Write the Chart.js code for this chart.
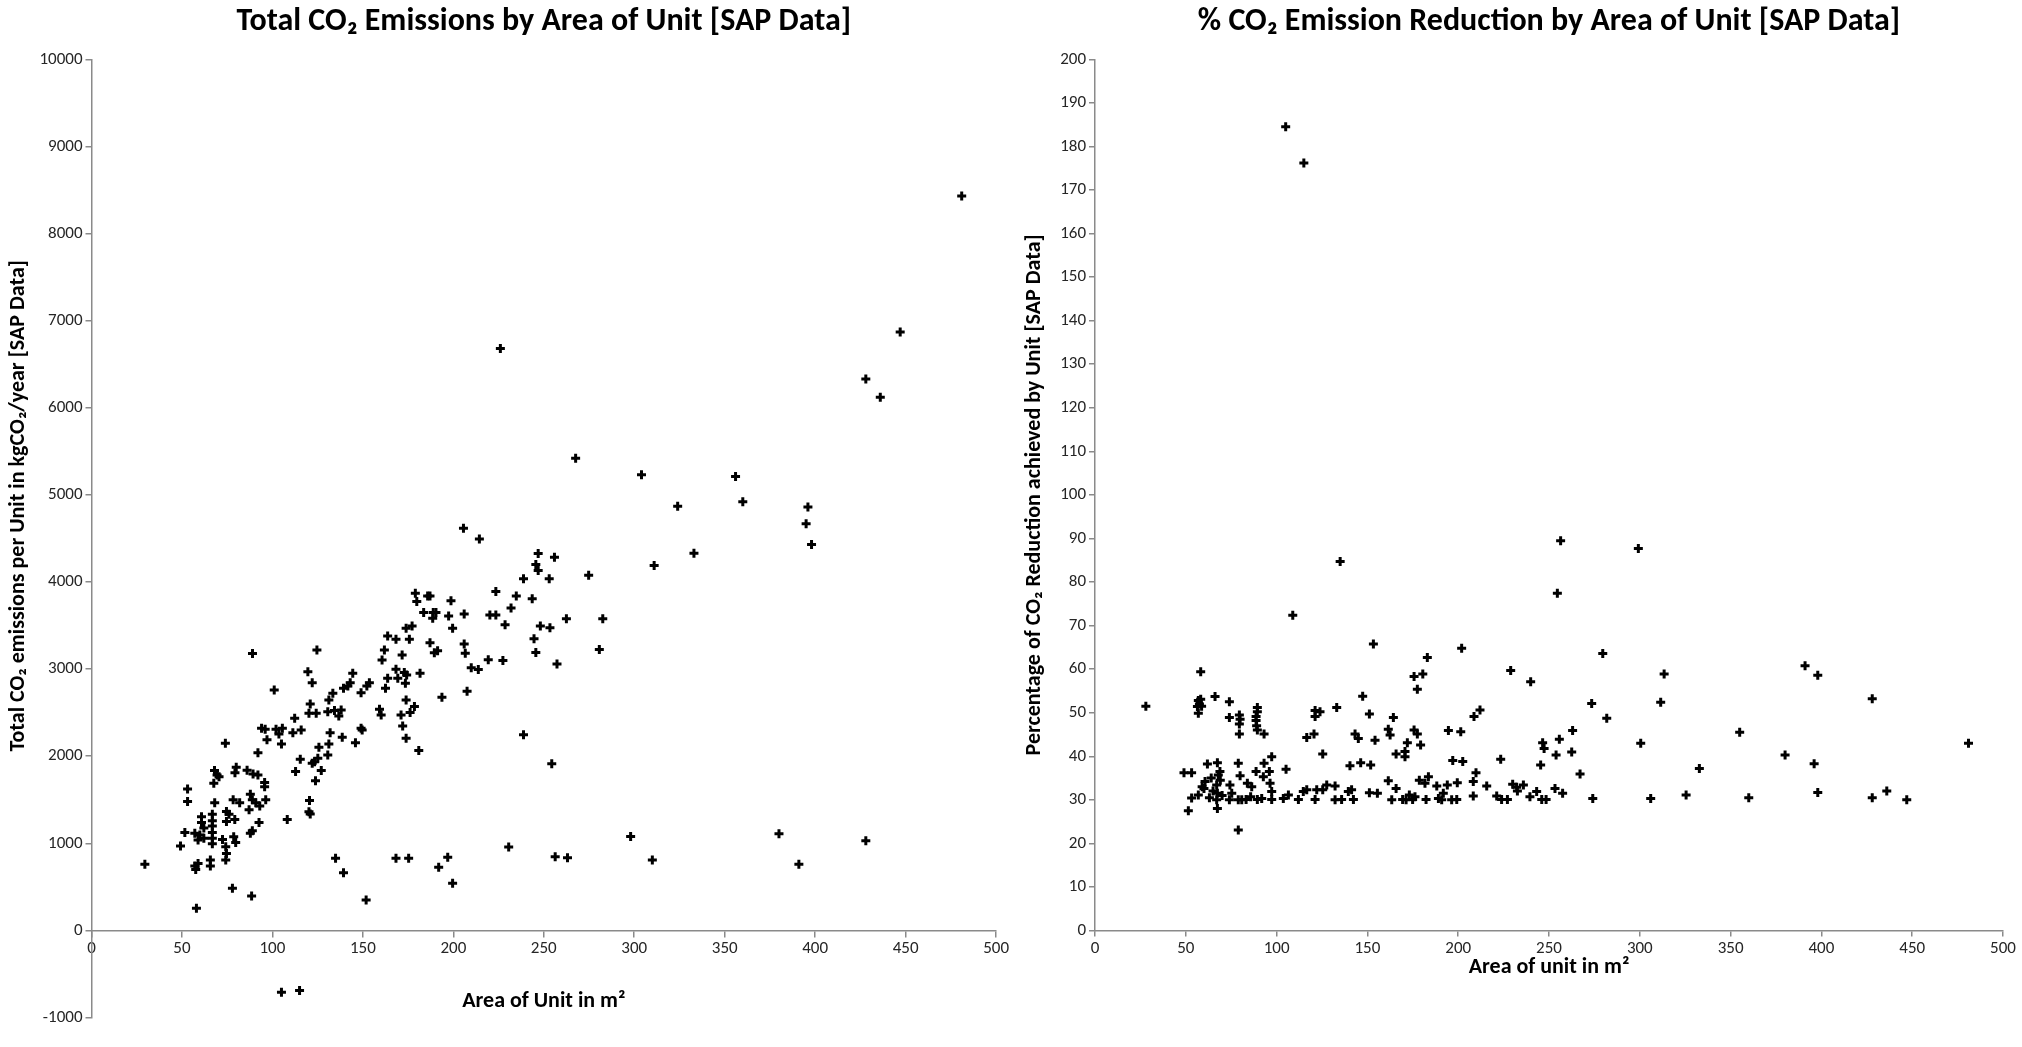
<!DOCTYPE html>
<html>
<head>
<meta charset="utf-8">
<title>CO₂ Emissions by Area of Unit</title>
<script src="https://cdn.jsdelivr.net/npm/chart.js@4.4.1/dist/chart.umd.min.js"></script>
<style>
  html, body { margin: 0; padding: 0; background: #fff; }
  #wrap { position: relative; width: 2022px; height: 1047px; overflow: hidden; }
  .panel { position: absolute; top: 0; width: 1011px; height: 1047px; }
  #panelLeft { left: 0; }
  #panelRight { left: 1011px; }
</style>
</head>
<body>
<div id="wrap">
  <div class="panel" id="panelLeft"><canvas id="emissionsChart"></canvas></div>
  <div class="panel" id="panelRight"><canvas id="reductionChart"></canvas></div>
</div>
<script>
// Unit floor area (m²) and total CO₂ emissions per unit (kgCO₂/year), SAP data
const emissionArea = [
  89, 101, 94, 96, 97, 102, 105.5, 103.6, 105, 74, 92, 68, 69.4, 70.5, 67.6, 80, 79.3, 86, 89.3, 92,
  95.7, 95.7, 96.3, 53.1, 53.1, 68.1, 78.3, 81.9, 87.8, 88.9, 90.8, 87.1, 93, 60.8, 66.8, 66.8, 66.8, 66.8, 66.8, 66.8,
  60.8, 62.1, 74.6, 76, 74.6, 79.2, 57.1, 59.9, 58.9, 62.1, 51.6, 49.2, 72.4, 78.6, 79.7, 74.2, 74.6, 74.2, 88.9, 87.8,
  92.6, 108.2, 29.5, 57.1, 58.9, 57.6, 65.7, 65.7, 77.9, 88.5, 58,
  179, 179.8, 185.8, 187.1, 198.7, 183.6, 188.9, 190.4, 188.6, 197.4, 199.6, 173.9, 177.2, 175.7, 163.7, 168.3, 187.1, 189.5, 191.3, 161.9,
  160.6, 171.7, 124.6, 119.6, 122, 144.4, 143, 141.7, 139.3, 153.6, 152.2, 149, 133.4, 131.2, 168.3, 169.3, 172.9, 174.2, 173.5, 163.7,
  162.5, 181.6, 173.9, 178.5, 176.1, 171.1, 172, 173.9, 180.9, 193.7, 159.2, 160.1, 120.9, 120.2, 124.2, 130.6, 134.3, 138, 136.7, 112.3,
  111.3, 115.9, 131.9, 138.6, 145.9, 149, 149.6, 131.2, 125.7, 130.6, 115.4, 125.1, 123.3, 122, 112.8, 127, 123.8, 120.5, 120.2, 120.9,
  134.9, 139.3, 151.8, 168.3, 175.3, 191.9, 196.9, 199.6,
  267.6, 205.6, 214.4, 246.9, 245.6, 246.9, 255.9, 238.8, 253, 274.8, 223.5, 234.8, 243.6, 231.9, 206, 220.2, 223.5, 228.6, 248.1, 253.4,
  262.5, 282.6, 244.6, 206, 206.6, 209.9, 213.8, 219.3, 227.4, 245.6, 257.3, 280.7, 207.6, 238.8, 254.4, 230.6, 256.3, 263.1,
  226, 304, 324, 311, 333, 356, 360, 395, 396, 398, 428, 436, 447, 481, 298, 310, 380, 391, 428, 105, 115
];
const emissionTotal = [
  3180, 2760, 2320, 2310, 2190, 2310, 2320, 2255, 2140, 2150, 2040, 1835, 1785, 1765, 1690, 1875, 1810, 1840, 1795, 1785,
  1700, 1650, 1500, 1625, 1480, 1465, 1500, 1465, 1565, 1500, 1465, 1385, 1430, 1305, 1335, 1260, 1200, 1125, 1060, 995,
  1240, 1175, 1365, 1335, 1250, 1275, 1115, 1095, 1040, 1060, 1125, 970, 1045, 1075, 1010, 960, 885, 810, 1145, 1115,
  1240, 1275, 760, 740, 770, 700, 810, 740, 485, 395, 255,
  3870, 3775, 3840, 3840, 3786, 3649, 3649, 3649, 3584, 3610, 3469, 3469, 3495, 3342, 3381, 3342, 3304, 3189, 3212, 3220,
  3105, 3163, 3220, 2971, 2845, 2952, 2845, 2807, 2780, 2845, 2807, 2730, 2723, 2646, 2998, 2895, 2960, 2933, 2837, 2895,
  2780, 2952, 2646, 2570, 2501, 2474, 2348, 2206, 2065, 2677, 2539, 2474, 2600, 2493, 2493, 2512, 2524, 2531, 2462, 2436,
  2271, 2302, 2271, 2218, 2156, 2321, 2302, 2141, 2103, 2015, 1965, 1977, 1938, 1919, 1824, 1835, 1720, 1491, 1364, 1338,
  829, 664, 351, 829, 829, 725, 840, 542,
  5420, 4618, 4493, 4327, 4202, 4131, 4285, 4036, 4036, 4078, 3890, 3840, 3807, 3703, 3633, 3620, 3620, 3508, 3495, 3475,
  3579, 3579, 3350, 3287, 3183, 3017, 2996, 3109, 3100, 3192, 3059, 3225, 2747, 2248, 1915, 959, 847, 834,
  6680, 5230, 4870, 4190, 4330, 5210, 4920, 4670, 4860, 4430, 6330, 6120, 6870, 8430, 1080, 810, 1110, 760, 1030, -710, -690
];

// Unit floor area (m²) and % CO₂ reduction achieved per unit, SAP data
const reductionArea = [
  108.9, 58.2, 56.9, 58.2, 57.5, 56.4, 58.7, 56.9, 66.1, 74, 74, 79.5, 79.9, 79.5, 79.5, 89.4, 89.4, 88.7, 88.7, 89,
  89.4, 93.1, 121.2, 121.2, 120.6, 116.6, 125.4, 97.3, 93.1, 49, 53.2, 61.9, 67.4, 68.8, 67.9, 78.9, 79.9, 88.7, 92.7, 96,
  105.2, 60.6, 60, 67, 67.4, 67, 67.4, 53.2, 51.4, 56.9, 74.3, 75.3, 74, 78.9, 80.8, 83.9, 86.3, 85.7, 89.4, 91.8,
  96.4, 97.3, 97.3, 103.7, 106.5, 112, 114.7, 116.6, 121.2, 122.1, 125.4, 127.6, 78.9, 83.2, 64, 65, 69, 70, 63, 59,
  153.3, 201.9, 183, 175.7, 180.5, 177.5, 147.4, 133.1, 151.1, 164.3, 123.9, 161.5, 162.5, 143.2, 145, 154.2, 175.7, 177.5, 172, 179.3,
  194.6, 201.4, 165.8, 170.7, 170.7, 140.4, 146.3, 151.8, 197, 202.5, 161.5, 165.8, 163.4, 178.6, 183.6, 181.7, 188.2, 194, 199.5, 132.2,
  132.2, 135.8, 139.5, 141.3, 142.3, 151.1, 155.5, 169.4, 173.1, 174.9, 176.2, 182.3, 189.1, 191.8, 196.4, 199.2, 171.3, 190.9,
  256.4, 299.2, 254.6, 279.6, 228.9, 239.9, 313.4, 311.5, 273.5, 281.8, 212, 208.7, 263, 255.7, 246.5, 247.3, 262.5, 253.9, 300.5, 223.4,
  245.4, 267.1, 209.8, 208.3, 215.7, 230, 232.2, 235.9, 232.6, 253.3, 257.5, 243.2, 239.5, 246, 248.4, 221.2, 223.9, 227.1, 208.3, 274.1,
  306, 325.5, 332.8,
  28, 105, 115, 135, 355, 360, 380, 391, 398, 396, 398, 428, 428, 436, 447, 481
];
const reductionPercent = [
  72.4, 59.4, 52.8, 53.1, 52, 51.4, 51.5, 49.9, 53.7, 52.5, 48.9, 49.5, 48.5, 47.4, 45.1, 51.2, 50.2, 49.1, 48.2, 47,
  46, 45.1, 50.5, 49.1, 45.1, 44.3, 40.5, 39.9, 38.4, 36.2, 36.2, 38.2, 38.5, 36.5, 35.7, 38.4, 35.5, 36.5, 35.3, 36.5,
  37, 34.2, 32.6, 33.4, 31.5, 30, 28, 30.4, 27.5, 31.1, 33.4, 31.5, 30, 30, 30, 33.8, 33, 30.7, 30.1, 30.3,
  33.8, 31.9, 30.1, 30.3, 31.1, 30.1, 31.9, 32.3, 30.1, 32.3, 32.3, 33.4, 23.1, 30.1, 35, 32, 34.5, 31, 30.5, 33,
  65.8, 64.8, 62.7, 58.3, 58.9, 55.4, 53.8, 51.2, 49.7, 48.9, 50.2, 46.2, 44.9, 45.1, 44.1, 43.7, 46, 45.1, 43.1, 42.6,
  45.9, 45.6, 40.5, 41.1, 39.9, 37.8, 38.5, 38, 39, 38.8, 34.4, 32.6, 30, 34.5, 35.3, 33.8, 33.2, 33.4, 33.9, 33.2,
  30, 30.1, 31.9, 32.3, 30.1, 31.6, 31.5, 30.1, 31.1, 30.1, 30.7, 30.1, 30.3, 31.5, 30, 30.1, 30, 30,
  89.5, 87.7, 77.4, 63.6, 59.7, 57.1, 58.9, 52.4, 52.1, 48.7, 50.6, 49.1, 45.9, 43.9, 43.1, 41.8, 41, 40.3, 43, 39.3,
  38, 35.9, 36.2, 34.2, 33.2, 33.6, 32.9, 33.4, 32, 32.6, 31.5, 31.9, 30.7, 30.1, 30.1, 30.9, 30.1, 30.1, 30.9, 30.3,
  30.3, 31.1, 37.2,
  51.5, 184.5, 176.2, 84.7, 45.5, 30.5, 40.3, 60.8, 58.6, 38.3, 31.7, 53.2, 30.5, 32, 30, 43
];

// Axis ranges and tick spacing
const areaAxis = { min: 0, max: 500, step: 50 };
const emissionAxis = { min: -1000, max: 10000, step: 1000 };
const reductionAxis = { min: 0, max: 200, step: 10 };

const FONT = 'Carlito, "Liberation Sans Narrow", "Liberation Sans", sans-serif';
const AXIS_GREY = '#8a8a8a';
const LABEL_COLOR = '#262626';

function toPoints(xs, ys) {
  return xs.map((x, i) => ({ x: x, y: ys[i] }));
}

function crossDataset(points) {
  return {
    data: points,
    pointStyle: 'cross',
    pointRadius: 4.5,
    pointHoverRadius: 4.5,
    pointBorderWidth: 3,
    borderColor: '#000',
    backgroundColor: '#000',
    showLine: false
  };
}

function tickFont() { return { family: FONT, size: 17 }; }
function axisTitleFont() { return { family: FONT, size: 22, weight: 'bold', lineHeight: 1.2 }; }

// Vertical axis title centred over a chosen value span of the y scale
const spanTitle = {
  id: 'spanTitle',
  afterDraw(chart, args, opts) {
    if (!opts || !opts.text) return;
    const yScale = chart.scales.y;
    const a = yScale.getPixelForValue(opts.from);
    const b = yScale.getPixelForValue(opts.to);
    const f = Chart.helpers.toFont(axisTitleFont());
    const ctx = chart.ctx;
    ctx.save();
    ctx.translate(yScale.left + opts.offset + f.lineHeight / 2, (a + b) / 2);
    ctx.rotate(-Math.PI / 2);
    ctx.font = f.string;
    ctx.fillStyle = '#000';
    ctx.textAlign = 'center';
    ctx.textBaseline = 'middle';
    ctx.fillText(opts.text, 0, 0);
    ctx.restore();
  }
};

function valueAxis(range, titleText, width, titlePadTop) {
  return {
    type: 'linear',
    position: 'left',
    min: range.min,
    max: range.max,
    ticks: { stepSize: range.step, color: LABEL_COLOR, font: tickFont(), padding: 3, format: { useGrouping: false } },
    grid: { drawOnChartArea: false, drawTicks: true, tickLength: 6, color: AXIS_GREY, lineWidth: 1.5 },
    border: { display: true, color: AXIS_GREY, width: 1.5 },
    title: { display: !!titleText, text: titleText || '', color: '#000', font: axisTitleFont(), padding: { top: titlePadTop, bottom: 0 } },
    afterFit: function (scale) { scale.width = width; }
  };
}

function areaAxisOptions(position, titleText, height, titlePadBottom) {
  return {
    type: 'linear',
    position: position,
    min: areaAxis.min,
    max: areaAxis.max,
    ticks: { stepSize: areaAxis.step, color: LABEL_COLOR, font: tickFont(), padding: 2, maxRotation: 0, format: { useGrouping: false } },
    grid: { drawOnChartArea: false, drawTicks: true, tickLength: 6, color: AXIS_GREY, lineWidth: 1.5 },
    border: { display: true, color: AXIS_GREY, width: 1.5 },
    title: { display: true, text: titleText, color: '#000', font: axisTitleFont(), padding: { top: 0, bottom: titlePadBottom } },
    afterFit: function (scale) { scale.height = height; }
  };
}

function chartTitle(text) {
  return {
    display: true,
    fullSize: false,
    text: text,
    color: '#000',
    font: { family: FONT, size: 32, weight: 'bold', lineHeight: 1.2 },
    padding: { top: 2.8, bottom: 18.1 }
  };
}

const common = {
  responsive: true,
  maintainAspectRatio: false,
  animation: false,
  devicePixelRatio: 1,
  events: []
};

new Chart(document.getElementById('emissionsChart'), {
  type: 'scatter',
  data: { datasets: [crossDataset(toPoints(emissionArea, emissionTotal))] },
  plugins: [spanTitle],
  options: Object.assign({}, common, {
    layout: { padding: { left: 0, right: 13, top: 0, bottom: 29.4 } },
    plugins: {
      legend: { display: false },
      tooltip: { enabled: false },
      title: chartTitle('Total CO₂ Emissions by Area of Unit [SAP Data]'),
      spanTitle: { text: 'Total CO₂ emissions per Unit in kgCO₂/year [SAP Data]', from: -250, to: 10000, offset: 5 }
    },
    scales: {
      x: areaAxisOptions({ y: 0 }, 'Area of Unit in m²', 100, 16),
      y: valueAxis(emissionAxis, null, 91.5, 5)
    }
  })
});

new Chart(document.getElementById('reductionChart'), {
  type: 'scatter',
  data: { datasets: [crossDataset(toPoints(reductionArea, reductionPercent))] },
  options: Object.assign({}, common, {
    layout: { padding: { left: 0, right: 19, top: 0, bottom: 0 } },
    plugins: {
      legend: { display: false },
      tooltip: { enabled: false },
      title: chartTitle('% CO₂ Emission Reduction by Area of Unit [SAP Data]')
    },
    scales: {
      x: areaAxisOptions('bottom', 'Area of unit in m²', 116.5, 66),
      y: valueAxis(reductionAxis, 'Percentage of CO₂ Reduction achieved by Unit [SAP Data]', 84, 10)
    }
  })
});
</script>
</body>
</html>
